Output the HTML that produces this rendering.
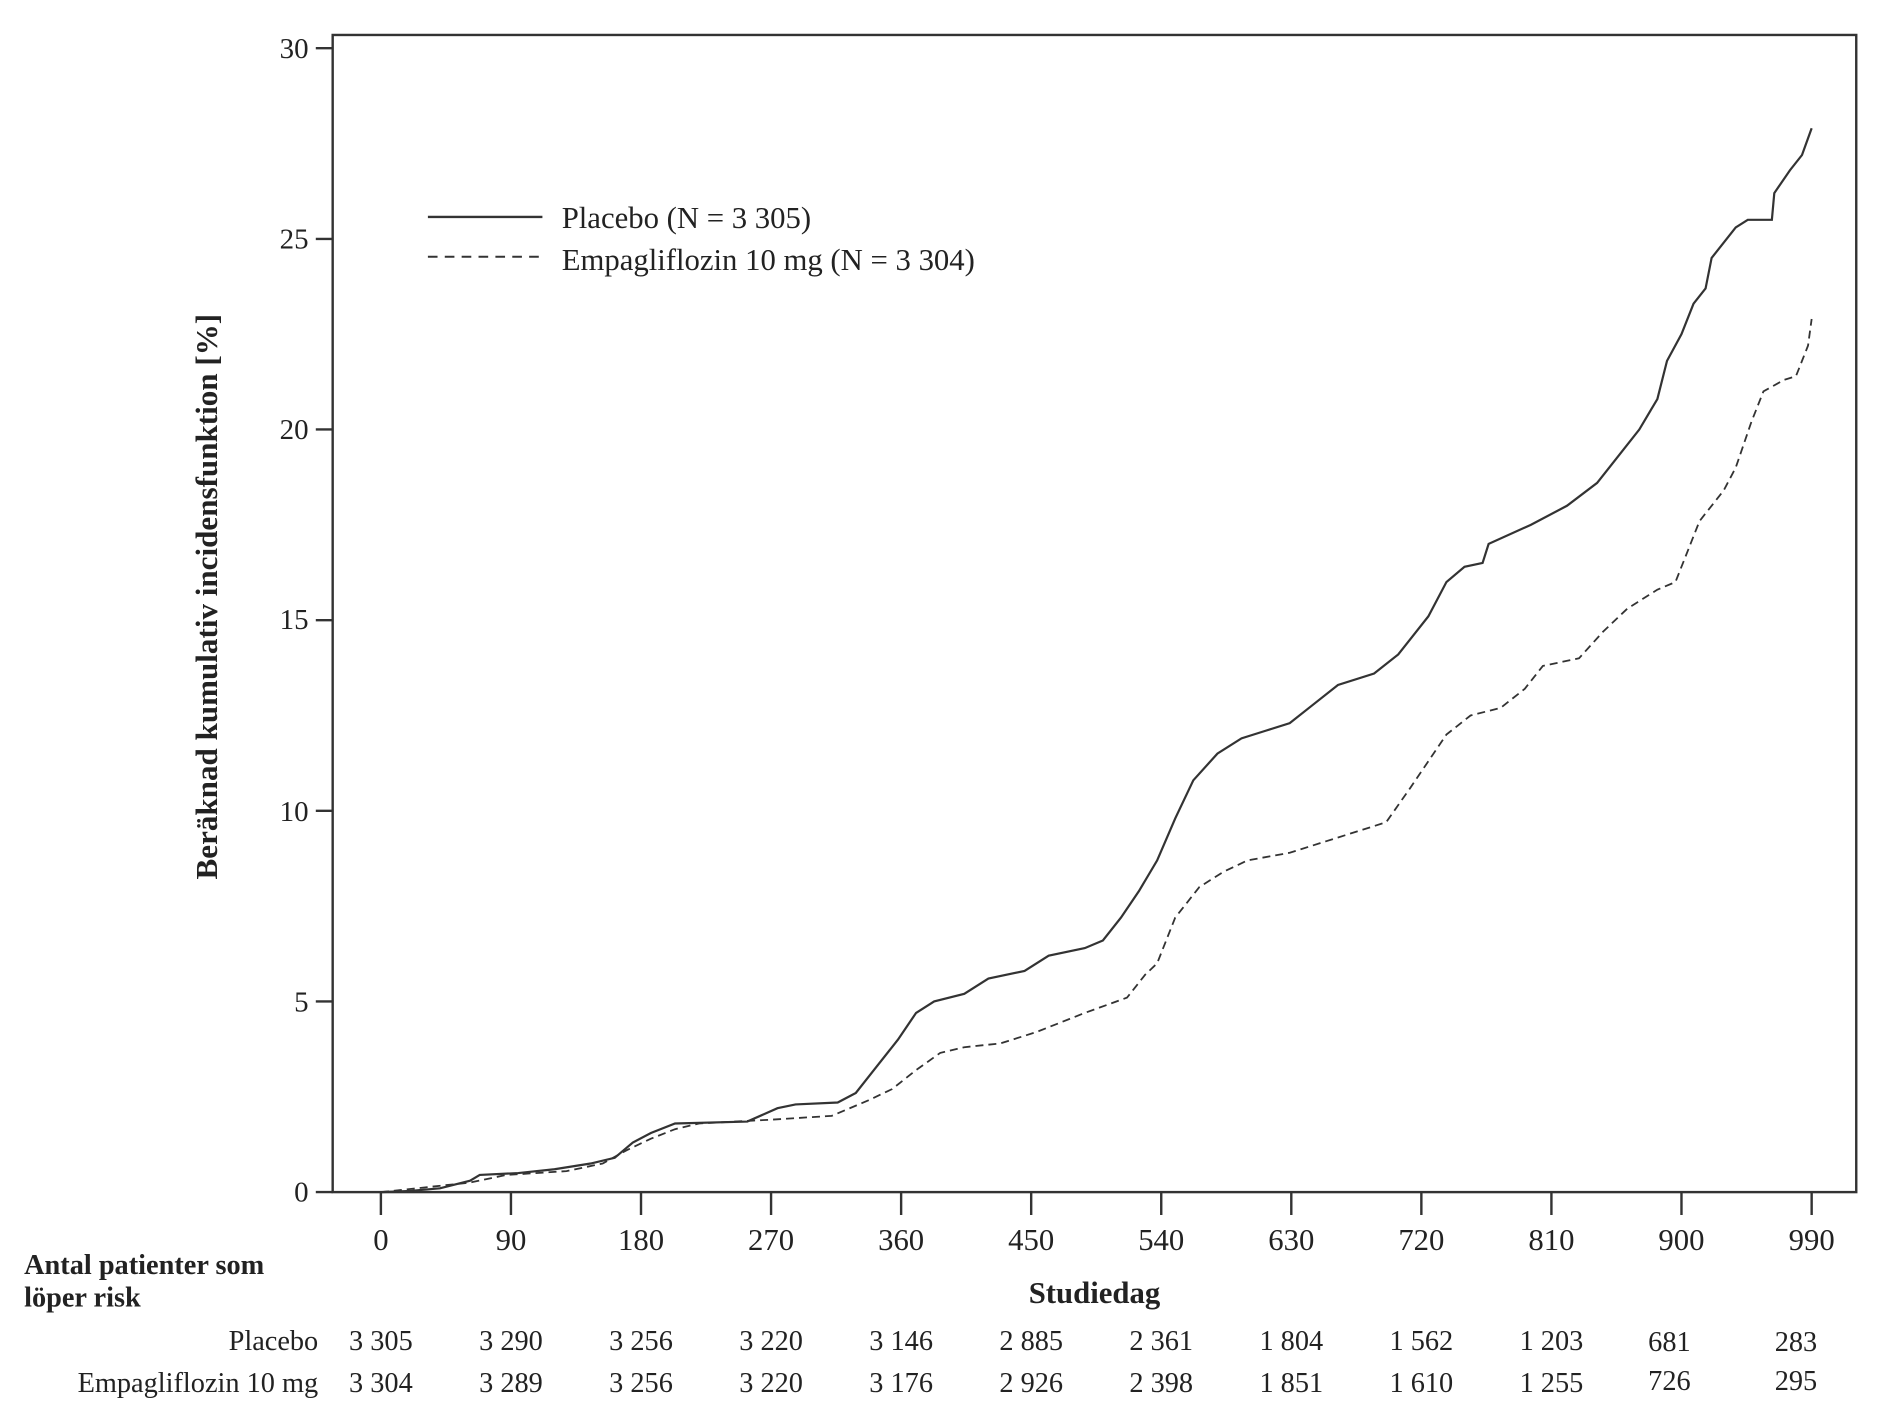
<!DOCTYPE html>
<html><head><meta charset="utf-8"><style>html,body{margin:0;padding:0;background:#fff}svg{display:block}</style></head>
<body>
<svg width="1890" height="1428" viewBox="0 0 1568 1184.7" xmlns="http://www.w3.org/2000/svg" font-family="'Liberation Serif', serif" fill="#222">
<rect x="276" y="29" width="1264" height="960" fill="none" stroke="#333" stroke-width="2"/>
<g stroke="#333" stroke-width="2">
<line x1="262" y1="40" x2="276" y2="40"/><line x1="262" y1="198.2" x2="276" y2="198.2"/><line x1="262" y1="356.3" x2="276" y2="356.3"/><line x1="262" y1="514.5" x2="276" y2="514.5"/><line x1="262" y1="672.7" x2="276" y2="672.7"/><line x1="262" y1="830.8" x2="276" y2="830.8"/><line x1="262" y1="989" x2="276" y2="989"/>
<line x1="316" y1="989" x2="316" y2="1008"/><line x1="423.9" y1="989" x2="423.9" y2="1008"/><line x1="531.8" y1="989" x2="531.8" y2="1008"/><line x1="639.7" y1="989" x2="639.7" y2="1008"/><line x1="747.6" y1="989" x2="747.6" y2="1008"/><line x1="855.5" y1="989" x2="855.5" y2="1008"/><line x1="963.4" y1="989" x2="963.4" y2="1008"/><line x1="1071.3" y1="989" x2="1071.3" y2="1008"/><line x1="1179.2" y1="989" x2="1179.2" y2="1008"/><line x1="1287.1" y1="989" x2="1287.1" y2="1008"/><line x1="1395" y1="989" x2="1395" y2="1008"/><line x1="1503" y1="989" x2="1503" y2="1008"/>
</g>
<g font-size="24" text-anchor="end">
<text x="256" y="48">30</text><text x="256" y="206">25</text><text x="256" y="364">20</text><text x="256" y="522">15</text><text x="256" y="681">10</text><text x="256" y="839">5</text><text x="256" y="997">0</text>
</g>
<g font-size="25.5" text-anchor="middle">
<text x="316" y="1037">0</text><text x="423.9" y="1037">90</text><text x="531.8" y="1037">180</text><text x="639.7" y="1037">270</text><text x="747.6" y="1037">360</text><text x="855.5" y="1037">450</text><text x="963.4" y="1037">540</text><text x="1071.3" y="1037">630</text><text x="1179.2" y="1037">720</text><text x="1287.1" y="1037">810</text><text x="1395" y="1037">900</text><text x="1503" y="1037">990</text>
</g>
<text x="908" y="1081" font-size="25.5" font-weight="bold" text-anchor="middle">Studiedag</text>
<text x="20" y="1057" font-size="23.5" font-weight="bold">Antal patienter som</text>
<text x="20" y="1084" font-size="23.5" font-weight="bold">löper risk</text>
<text transform="translate(180,495) rotate(-90)" font-size="25.8" font-weight="bold" text-anchor="middle">Beräknad kumulativ incidensfunktion [%]</text>
<g font-size="23.5">
<text x="264" y="1120" text-anchor="end">Placebo</text>
<text x="264" y="1155" text-anchor="end">Empagliflozin 10 mg</text>
<g text-anchor="middle">
<text x="316" y="1120">3 305</text><text x="423.9" y="1120">3 290</text><text x="531.8" y="1120">3 256</text><text x="639.7" y="1120">3 220</text><text x="747.6" y="1120">3 146</text><text x="855.5" y="1120">2 885</text><text x="963.4" y="1120">2 361</text><text x="1071.3" y="1120">1 804</text><text x="1179.2" y="1120">1 562</text><text x="1287.1" y="1120">1 203</text><text x="1385" y="1121">681</text><text x="1490" y="1121">283</text>
<text x="316" y="1155">3 304</text><text x="423.9" y="1155">3 289</text><text x="531.8" y="1155">3 256</text><text x="639.7" y="1155">3 220</text><text x="747.6" y="1155">3 176</text><text x="855.5" y="1155">2 926</text><text x="963.4" y="1155">2 398</text><text x="1071.3" y="1155">1 851</text><text x="1179.2" y="1155">1 610</text><text x="1287.1" y="1155">1 255</text><text x="1385" y="1153">726</text><text x="1490" y="1153">295</text>
</g></g>
<line x1="355" y1="180" x2="450" y2="180" stroke="#333" stroke-width="2"/>
<line x1="355" y1="213" x2="450" y2="213" stroke="#333" stroke-width="1.6" stroke-dasharray="8,6"/>
<text x="466" y="189" font-size="25.5">Placebo (N = 3 305)</text>
<text x="466" y="224" font-size="25.5">Empagliflozin 10 mg (N = 3 304)</text>
<g transform="translate(316,989) scale(1,-31.633)" fill="none" stroke="#333">
<polyline vector-effect="non-scaling-stroke" stroke-width="2.2" points="0,0 24,0.03 49,0.1 74,0.3 82,0.45 114,0.5 144,0.6 174,0.75 194,0.9 209,1.3 224,1.55 244,1.8 304,1.85 329,2.2 344,2.3 379,2.35 394,2.6 409,3.2 429,4.0 444,4.7 459,5.0 484,5.2 504,5.6 534,5.8 554,6.2 584,6.4 599,6.6 614,7.2 629,7.9 644,8.7 659,9.8 674,10.8 694,11.5 714,11.9 734,12.1 754,12.3 774,12.8 794,13.3 824,13.6 844,14.1 869,15.1 884,16.0 899,16.4 914,16.5 919,17.0 954,17.5 984,18.0 1009,18.6 1024,19.2 1044,20.0 1059,20.8 1067,21.8 1079,22.5 1089,23.3 1099,23.7 1104,24.5 1124,25.3 1134,25.5 1154,25.5 1156,26.2 1169,26.8 1179,27.2 1187,27.9"/>
<polyline vector-effect="non-scaling-stroke" stroke-width="1.8" stroke-dasharray="8,5" points="0,0 74,0.25 104,0.45 154,0.55 184,0.75 204,1.1 224,1.4 244,1.65 264,1.8 294,1.85 324,1.9 374,2.0 404,2.4 424,2.7 444,3.2 464,3.65 484,3.8 514,3.9 544,4.2 584,4.7 619,5.1 634,5.7 644,6.0 659,7.2 679,8.0 699,8.4 719,8.7 754,8.9 784,9.2 834,9.7 854,10.6 869,11.3 884,12.0 904,12.5 929,12.7 949,13.2 964,13.8 994,14.0 1014,14.7 1034,15.3 1059,15.8 1074,16.0 1084,16.8 1094,17.6 1104,18.0 1114,18.4 1124,19.0 1137,20.2 1147,21.0 1164,21.3 1174,21.4 1179,21.8 1184,22.2 1187,22.9"/>
</g>
</svg>
</body></html>
